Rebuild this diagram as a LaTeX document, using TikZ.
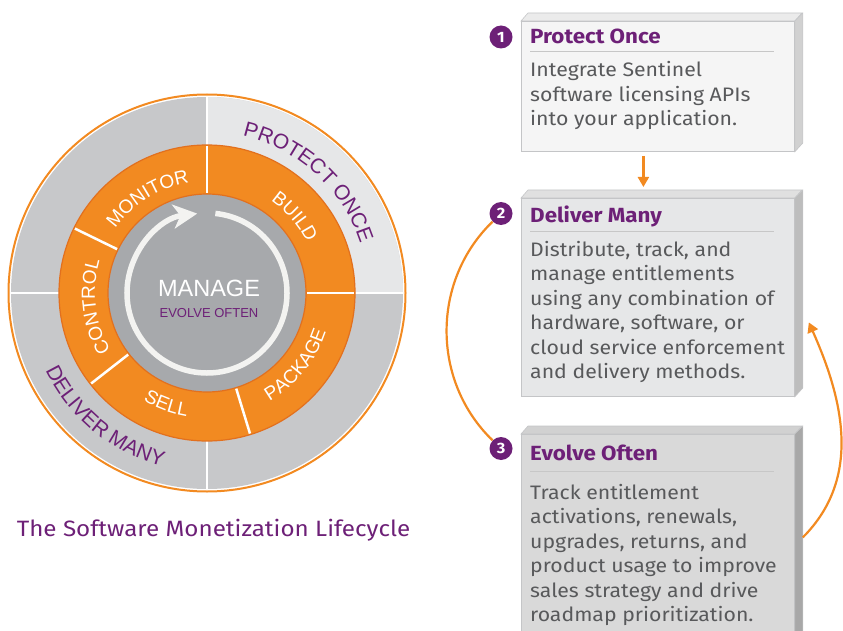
\documentclass[tikz,border=0pt]{standalone}
\usepackage{fontspec}
\setmainfont{Fira Sans}[FakeStretch=1.09]
\newfontfamily\wheelfont{Liberation Sans}
\usepackage{xcolor}
\usetikzlibrary{shapes,arrows.meta,positioning,decorations.text}

\definecolor{lcorange}{HTML}{F28A21}
\definecolor{lcdarkorange}{HTML}{E2701E}
\definecolor{lcpurple}{HTML}{6D2077}
\definecolor{lcgray}{HTML}{C7C8CA}
\definecolor{lclight}{HTML}{E6E7E8}
\definecolor{lcinner}{HTML}{A7A9AC}
\definecolor{lcwhite}{HTML}{F3F3F1}
\definecolor{lctext}{HTML}{58595B}
\definecolor{lcedge}{HTML}{C4C5C7}

\newcommand\ringfont{\wheelfont\fontsize{19}{19}\selectfont}
\newcommand\phasefont{\wheelfont\fontsize{21}{21}\selectfont}

\tikzset{
    boxface/.style={rectangle, draw=lcedge, line width=0.8pt, inner sep=0pt, anchor=north west},
    stepnum/.style={circle, fill=lcpurple, text=white, inner sep=0pt, minimum size=23pt, font=\bfseries\fontsize{15}{15}\selectfont},
    steptitle/.style={anchor=base west, inner sep=0pt, text=lcpurple, font=\bfseries\fontsize{20.5}{22}\selectfont},
    stepbody/.style={anchor=north west, inner sep=0pt, text=lctext, align=left, font=\fontsize{19.5}{24.5}\selectfont},
    flow/.style={draw=lcorange, line width=2.2pt, -{Triangle[length=10pt,width=11pt]}},
    ringtext/.style={decorate, decoration={text along path, text align=center, text={#1}}}
}

\begin{document}
\begin{tikzpicture}[x=1pt, y=1pt]
    \useasboundingbox (0,0) rectangle (843,-631);
    \clip (0,0) rectangle (843,-631);

    % the lifecycle wheel
    \begin{scope}[shift={(207,-293)}]
        \fill[lcgray] (0,0) circle (196);
        \fill[lclight] (0,0) -- (0:196) arc (0:90:196) -- cycle;
        \draw[white, line width=1.5pt] (-196,0) -- (196,0) (0,-196) -- (0,196);
        \draw[lcorange, line width=2pt] (0,0) circle (198.5);
        \draw[fill=lcorange, draw=lcdarkorange, line width=1.2pt] (0,0) circle (148);
        \draw[fill=lcinner, draw=lcdarkorange, line width=1.2pt] (0,0) circle (99);
        \foreach \a in {90,0,-73,154,218}
            \draw[white, line width=2.5pt] (\a:100) -- (\a:147);
        \draw[lcwhite, line width=5.5pt, -{Stealth[length=24pt,width=24pt,inset=7pt]}] (84:80) arc[start angle=84, end angle=-263, radius=80];

        \path[ringtext={|\ringfont\color{white}|BUILD}] (76:112) arc (76:6:112);
        \path[ringtext={|\ringfont\color{white}|MONITOR}] (160:112) arc (160:84:112);
        \path[ringtext={|\ringfont\color{white}|CONTROL}] (225:112) arc (225:149:112);
        \path[ringtext={|\ringfont\color{white}|PACKAGE}] (-80:125) arc (-80:2:125);
        \path[ringtext={|\ringfont\color{white}|SELL}] (215:125) arc (215:285:125);
        \path[ringtext={|\phasefont\color{lcpurple}|PROTECT ONCE}] (100:161) arc (100:-5:161);
        \path[ringtext={|\phasefont\color{lcpurple}|DELIVER MANY}] (175:179) arc (175:286:179);

        \node[text=white, font=\wheelfont\fontsize{23.5}{24}\selectfont] (manage) at (2,4.5) {MANAGE};
        \node[text=lcpurple, font=\wheelfont\fontsize{13}{14}\selectfont] (evolve) at (2,-20.5) {EVOLVE OFTEN};
    \end{scope}

    \node[text=lcpurple, anchor=base, font=\fontsize{22.2}{24}\selectfont] (caption) at (213.5,-536) {The Software Monetization Lifecycle};

    % step boxes
    \node[boxface, fill=black!4, minimum width=273pt, minimum height=130pt] (box1) at (521,-21) {};
    \fill[black!8, draw=lcedge, line width=0.6pt] (box1.north west) -- ++(7,8) -- ++(274,0) -- (box1.north east) -- cycle;
    \fill[black!18, draw=lcedge, line width=0.6pt] (box1.north east) -- ++(8,8) -- ++(0,-130) -- (box1.south east) -- cycle;

    \node[boxface, fill=lclight, minimum width=273pt, minimum height=198pt] (box2) at (521,-198) {};
    \fill[black!12, draw=lcedge, line width=0.6pt] (box2.north west) -- ++(7,8) -- ++(274,0) -- (box2.north east) -- cycle;
    \fill[black!26, draw=lcedge, line width=0.6pt] (box2.north east) -- ++(8,8) -- ++(0,-198) -- (box2.south east) -- cycle;

    \node[boxface, fill=black!15, minimum width=273pt, minimum height=206pt] (box3) at (521,-434) {};
    \fill[black!18, draw=lcedge, line width=0.6pt] (box3.north west) -- ++(7,8) -- ++(274,0) -- (box3.north east) -- cycle;
    \fill[black!34, draw=lcedge, line width=0.6pt] (box3.north east) -- ++(8,8) -- ++(0,-206) -- (box3.south east) -- cycle;

    \node[stepnum] (n1) at (501,-37) {1};
    \node[steptitle] (t1) at (530,-43.5) {Protect Once};
    \draw[black!22, line width=1pt] ([yshift=-8.5pt]t1.base west) -- ++(244,0);
    \node[stepbody] (b1) at (530,-61.5) {Integrate Sentinel\\software licensing APIs\\into your application.};

    \node[stepnum] (n2) at (501,-213.5) {2};
    \node[steptitle] (t2) at (530,-222.5) {Deliver Many};
    \draw[black!22, line width=1pt] ([yshift=-8.5pt]t2.base west) -- ++(244,0);
    \node[stepbody] (b2) at (530,-240.7) {Distribute, track, and\\manage entitlements\\using any combination of\\hardware, software, or\\cloud service enforcement\\and delivery methods.};

    \node[stepnum] (n3) at (501,-448.5) {3};
    \node[steptitle] (t3) at (530,-460) {Evolve Often};
    \draw[black!22, line width=1pt] ([yshift=-11pt]t3.base west) -- ++(244,0);
    \node[stepbody] (b3) at (530,-483.7) {Track entitlement\\activations, renewals,\\upgrades, returns, and\\product usage to improve\\sales strategy and drive\\roadmap prioritization.};

    % connectors
    \draw[flow] ([xshift=-14.5pt,yshift=-4pt]box1.south) -- ([xshift=-14.5pt,yshift=11pt]box2.north);
    \draw[lcorange, line width=2.2pt] (n2) to[out=224, in=136] (n3);
    \coordinate (loopstart) at ([xshift=8pt]box3.east);
    \coordinate (loopend) at ([xshift=14pt,yshift=-25pt]box2.east);
    \draw[flow] (loopstart) to[out=45, in=-66] (loopend);
\end{tikzpicture}
\end{document}
